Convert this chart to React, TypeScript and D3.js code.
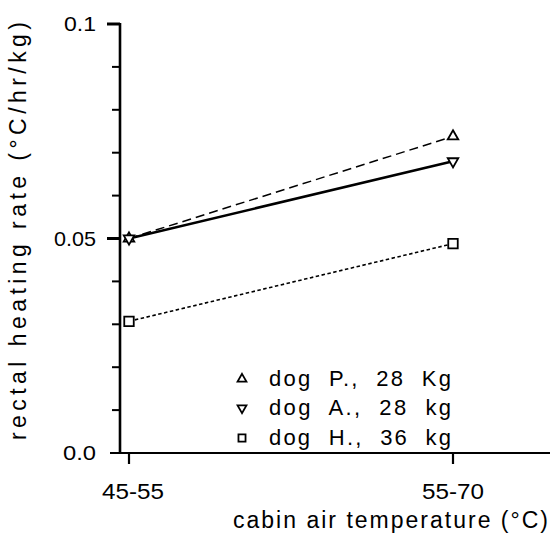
import React from "react";
import * as d3 from "d3";

const categories = ["45-55", "55-70"];
const dogP = [0.05, 0.0738];
const dogA = [0.05, 0.068];
const dogH = [0.0307, 0.0488];
const legendLabels = ["dog  P.,  28  Kg", "dog  A.,  28  kg", "dog  H.,  36  kg"];
const yTickMinor = d3.range(0, 0.1001, 0.01);
const yTickLabels = [
  { v: 0.1, t: "0.1" },
  { v: 0.05, t: "0.05" },
  { v: 0.0, t: "0.0" },
];

const W = 557;
const H = 547;
const FONT = "'Liberation Sans', Arial, Helvetica, sans-serif";

export default function App() {
  const y = d3.scaleLinear().domain([0, 0.1]).range([453, 24]);
  const x = d3.scalePoint<string>().domain(categories).range([129, 453]);
  const line = d3
    .line<number>()
    .x((_, i) => x(categories[i]) as number)
    .y((d) => y(d));

  const tri = d3.symbol().type(d3.symbolTriangle).size(48)();
  const triSmall = d3.symbol().type(d3.symbolTriangle).size(34)();
  const sq = d3.symbol().type(d3.symbolSquare).size(90)();
  const sqSmall = d3.symbol().type(d3.symbolSquare).size(50)();

  const series = [
    { vals: dogP, dash: "9,5", width: 1.5, marker: tri, rot: 0 },
    { vals: dogA, dash: null, width: 2.6, marker: tri, rot: 180 },
    { vals: dogH, dash: "3.5,2.5", width: 1.6, marker: sq, rot: 0 },
  ];
  const legendMarkers = [
    { m: triSmall, rot: 0 },
    { m: triSmall, rot: 180 },
    { m: sqSmall, rot: 0 },
  ];
  const legendY = [386, 415, 445];
  const tickLen: Record<string, number> = { "0.1": 32, "0.05": 42, "0.0": 33 };

  return (
    <svg width={W} height={H} style={{ display: "block", position: "absolute", left: 0, top: 0, background: "#fff" }}>
      <rect width={W} height={H} fill="#fff" />
      {/* y axis */}
      <line x1={120} x2={120} y1={y(0.1) - 1} y2={y(0) + 1} stroke="#000" strokeWidth={2.6} />
      {yTickMinor.map((v, i) => {
        const major = Math.abs(v - 0.05) < 1e-9 || Math.abs(v - 0.1) < 1e-9;
        return (
          <line key={i} x1={major ? 107 : 112} x2={120} y1={y(v)} y2={y(v)} stroke="#000" strokeWidth={major ? 3 : 2} />
        );
      })}
      {yTickLabels.map((d, i) => (
        <text
          key={i}
          x={96 - tickLen[d.t]}
          y={y(d.v) + 7}
          fontFamily={FONT}
          fontSize={21}
          fill="#000"
          textLength={tickLen[d.t]}
          lengthAdjust="spacingAndGlyphs"
        >
          {d.t}
        </text>
      ))}
      {/* x axis */}
      <line x1={110} x2={550} y1={y(0)} y2={y(0)} stroke="#000" strokeWidth={2.2} />
      {categories.map((c, i) => (
        <g key={c}>
          <line x1={x(c)} x2={x(c)} y1={y(0)} y2={y(0) + 11} stroke="#000" strokeWidth={2.2} />
          <text
            x={(x(c) as number) + (i === 0 ? 4 : 0) - 31}
            y={499}
            fontFamily={FONT}
            fontSize={22}
            fill="#000"
            textLength={62}
            lengthAdjust="spacingAndGlyphs"
          >
            {c}
          </text>
        </g>
      ))}
      <text x={233} y={528} fontFamily={FONT} fontSize={23} fill="#000" textLength={315} lengthAdjust="spacing">
        cabin air temperature (°C)
      </text>
      <text
        transform={`translate(26,440) rotate(-90)`}
        fontFamily={FONT}
        fontSize={23}
        fill="#000"
        textLength={418}
        lengthAdjust="spacing"
      >
        rectal heating rate (°C/hr/kg)
      </text>
      {/* series */}
      {series.map((s, i) => (
        <g key={i}>
          <path
            d={line(s.vals) as string}
            fill="none"
            stroke="#000"
            strokeWidth={s.width}
            strokeDasharray={s.dash ?? undefined}
          />
          {s.vals.map((v, j) => (
            <path
              key={j}
              d={s.marker as string}
              transform={`translate(${x(categories[j])},${y(v)}) rotate(${s.rot})`}
              fill="#fff"
              stroke="#000"
              strokeWidth={1.8}
            />
          ))}
        </g>
      ))}
      {/* legend */}
      {legendLabels.map((t, i) => (
        <g key={i}>
          <path
            d={legendMarkers[i].m as string}
            transform={`translate(242,${legendY[i] - 7}) rotate(${legendMarkers[i].rot})`}
            fill="#fff"
            stroke="#000"
            strokeWidth={1.8}
          />
          <text
            x={269}
            y={legendY[i]}
            fontFamily={FONT}
            fontSize={22}
            fill="#000"
            style={{ whiteSpace: "pre" }}
            textLength={182}
            lengthAdjust="spacing"
          >
            {t}
          </text>
        </g>
      ))}
    </svg>
  );
}
